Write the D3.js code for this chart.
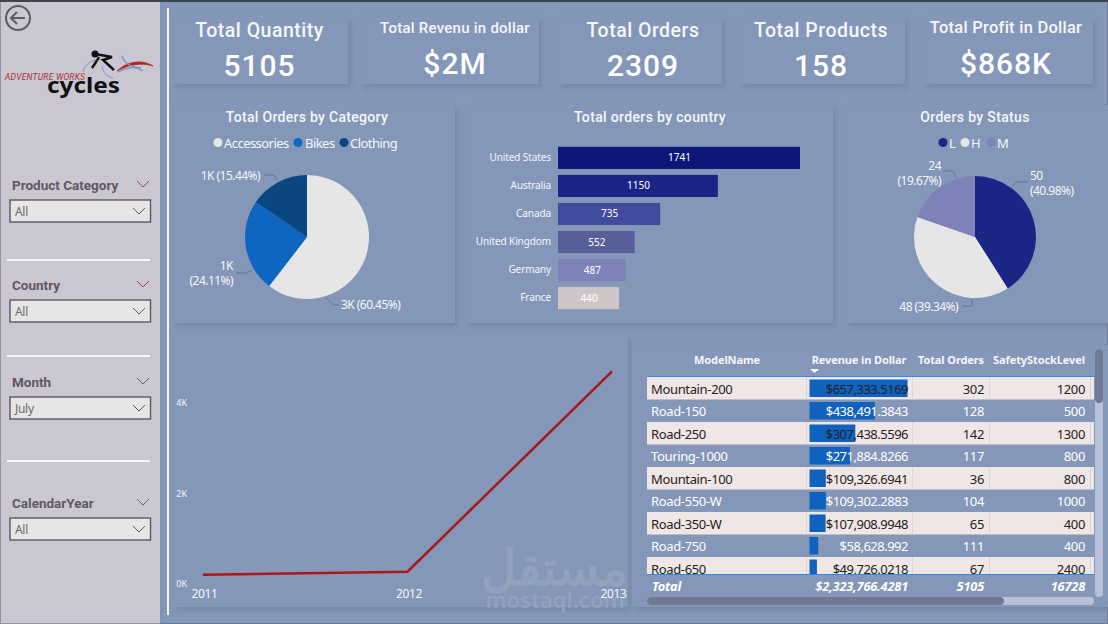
<!DOCTYPE html>
<html>
<head>
<meta charset="utf-8">
<script src="https://cdn.jsdelivr.net/npm/d3@7"></script>
<style>
html, body { margin:0; padding:0; background:#8497b8; overflow:hidden; }
text { font-family:"Noto Sans", sans-serif; }
.din { font-family:"Roboto", sans-serif; }
</style>
</head>
<body>
<svg id="chart" width="1108" height="624"></svg>
<script>
"use strict";

var kpiTitles = ['Total Quantity', 'Total Revenu in dollar', 'Total Orders', 'Total Products', 'Total Profit in Dollar'];
var kpiValues = ['5105', '$2M', '2309', '158', '$868K'];

var slicerNames = ['Product Category', 'Country', 'Month', 'CalendarYear'];
var slicerValues = ['All', 'All', 'July', 'All'];

var categoryNames = ['Accessories', 'Bikes', 'Clothing'];
var categoryShares = [60.45, 24.11, 15.44];
var categoryLabels = [['3K (60.45%)'], ['1K', '(24.11%)'], ['1K (15.44%)']];

var statusNames = ['L', 'H', 'M'];
var statusValues = [50, 48, 24];
var statusLabels = [['50', '(40.98%)'], ['48 (39.34%)'], ['24', '(19.67%)']];

var countries = ['United States', 'Australia', 'Canada', 'United Kingdom', 'Germany', 'France'];
var countryOrders = [1741, 1150, 735, 552, 487, 440];

var years = ['2011', '2012', '2013'];
var yearQuantity = [180, 250, 4675];

var models = ['Mountain-200', 'Road-150', 'Road-250', 'Touring-1000', 'Mountain-100', 'Road-550-W', 'Road-350-W', 'Road-750', 'Road-650'];
var revenue = [657333.5169, 438491.3843, 307438.5596, 271884.8266, 109326.6941, 109302.2883, 107908.9948, 58628.992, 49726.0218];
var revenueText = ['$657,333.5169', '$438,491.3843', '$307,438.5596', '$271,884.8266', '$109,326.6941', '$109,302.2883', '$107,908.9948', '$58,628.992', '$49,726.0218'];
var modelOrders = [302, 128, 142, 117, 36, 104, 65, 111, 67];
var safetyStock = [1200, 500, 1300, 800, 800, 1000, 400, 400, 2400];
var tableHeads = ['ModelName', 'Revenue in Dollar', 'Total Orders', 'SafetyStockLevel'];
var tableTotals = ['Total', '$2,323,766.4281', '5105', '16728'];

var BG = '#8497b8', SHADOW = '#75859f', WHITE = '#f4f6fa';
var svg = d3.select('#chart');

var blur = svg.append('defs').append('filter').attr('id', 'soft')
	.attr('x', '-10%').attr('y', '-10%').attr('width', '120%').attr('height', '120%');
blur.append('feGaussianBlur').attr('stdDeviation', 2.5);

function label(g, x, y, str, size, color, anchor, cls)
{
	return g.append('text').attr('x', x).attr('y', y).attr('font-size', size)
		.attr('fill', color).attr('text-anchor', anchor || 'start')
		.attr('class', cls || null).text(str);
}
function panel(x, y, w, h)
{
	svg.append('rect').attr('x', x + 3).attr('y', y + 4).attr('width', w).attr('height', h)
		.attr('fill', SHADOW).attr('opacity', .8).attr('filter', 'url(#soft)');
	svg.append('rect').attr('x', x).attr('y', y).attr('width', w).attr('height', h).attr('fill', BG);
}
function chevron(x, y, color)
{
	svg.append('path').attr('d', 'M' + (x - 6) + ',' + (y - 3) + 'L' + x + ',' + (y + 3) + 'L' + (x + 6) + ',' + (y - 3))
		.attr('fill', 'none').attr('stroke', color).attr('stroke-width', 1);
}

// background
svg.append('rect').attr('width', 1108).attr('height', 624).attr('fill', BG);

//*-*-*-*-*-*-*-*-*-*-*-*-*-*-*-*-*-*-*-
//      *** sidebar ***
//*-*-*-*-*-*-*-*-*-*-*-*-*-*-*-*-*-*-*
svg.append('rect').attr('width', 160).attr('height', 624).attr('fill', '#cbc7d2');
svg.append('rect').attr('x', 160).attr('width', 3).attr('height', 624).attr('fill', '#7d8fad').attr('opacity', .4);
svg.append('rect').attr('x', .5).attr('y', .5).attr('width', 1107).attr('height', 623).attr('fill', 'none')
	.attr('stroke', '#555e70').attr('stroke-dasharray', '1 1');
svg.append('rect').attr('width', 1108).attr('height', 2).attr('fill', '#3f4350');

// back button
svg.append('circle').attr('cx', 18).attr('cy', 18).attr('r', 12).attr('fill', 'none').attr('stroke', '#5c5c5c').attr('stroke-width', 2);
svg.append('path').attr('d', 'M25,18H11M17,12L11,18L17,24').attr('fill', 'none').attr('stroke', '#5c5c5c').attr('stroke-width', 2);

// logo
svg.append('path').attr('d', 'M117,71C125,63 140,58 153,66C141,62 128,65 117,71Z').attr('fill', '#b3261e').attr('stroke', '#b3261e').attr('stroke-width', .8);
svg.append('path').attr('d', 'M118,72C127,68 134,65 143,71M122,56C124,63 130,67 141,68').attr('fill', 'none').attr('stroke', '#7f95c6').attr('stroke-width', 1.3);
svg.append('path').attr('d', 'M83,72C84,64 94,57 108,60M102,66C103,72 106,76 113,78').attr('fill', 'none').attr('stroke', '#7f95c6').attr('stroke-width', 1);
svg.append('circle').attr('cx', 95).attr('cy', 54).attr('r', 3.5).attr('fill', '#111');
svg.append('path').attr('d', 'M95,54L112,57L103,60L114,70M99,57L96,62L92,68').attr('fill', 'none').attr('stroke', '#111').attr('stroke-width', 2.4);
label(svg, 5, 80, 'ADVENTURE WORKS', 8.5, '#a83232', 'start', 'din').attr('font-style', 'italic')
	.attr('textLength', 80).attr('lengthAdjust', 'spacing');
label(svg, 47, 93, 'cycles', 21, '#111').attr('font-weight', 700).attr('font-family', 'DejaVu Sans')
	.attr('textLength', 73).attr('lengthAdjust', 'spacingAndGlyphs');

// slicers
var slicerTitleY = [190, 290, 387, 508];
var dividerY = [260, 356, 461];
slicerNames.forEach(function(name, i)
{
	var boxTop = slicerTitleY[i] + 10;
	label(svg, 12, slicerTitleY[i], name, 13.5, '#5e5864', 'start', 'din').attr('font-weight', 700);
	chevron(143, slicerTitleY[i] - 6, i >= 2 ? '#6a6570' : '#8a4a58');
	svg.append('rect').attr('x', 10).attr('y', boxTop).attr('width', 140.5).attr('height', 22)
		.attr('fill', '#e6e6e6').attr('stroke', '#5d5763').attr('stroke-width', 1.4);
	label(svg, 15, boxTop + 16, slicerValues[i], 12, '#6a6a6a').attr('letter-spacing', -0.3);
	chevron(139, boxTop + 11, '#5d5763');
});
dividerY.forEach(function(y)
{
	svg.append('rect').attr('x', 7).attr('y', y - 1).attr('width', 143).attr('height', 2).attr('fill', '#f5f4f7');
});

// divider of the main area
svg.append('rect').attr('x', 167).attr('y', 8).attr('width', 2).attr('height', 607).attr('fill', '#f2f4f8');

//*-*-*-*-*-*-*-*-*-*-*-*-*-*-*-*-*-*-*-
//      *** kpi cards ***
//*-*-*-*-*-*-*-*-*-*-*-*-*-*-*-*-*-*-*
var kpiX = [172, 361, 558, 740, 923];
var kpiW = [176, 178, 164, 165, 170];
var kpiCx = [259.5, 455, 643, 821, 1006];
var kpiTitleSize = [19.5, 15, 19.5, 19.5, 16.5];
kpiTitles.forEach(function(t, i)
{
	panel(kpiX[i], 17, kpiW[i], 67);
	var small = (i == 1 || i == 4);
	label(svg, kpiCx[i], small ? 33 : 37, t, kpiTitleSize[i], WHITE, 'middle', 'din').attr('font-weight', 500).attr('letter-spacing', small ? .25 : .5);
	label(svg, kpiCx[i], small ? 74 : 76, kpiValues[i], 30, '#fff', 'middle', 'din').attr('font-weight', 500).attr('letter-spacing', 1);
});

panel(172, 105, 283, 218);
panel(467, 105, 366, 218);
panel(845, 105, 263, 218);
panel(172, 335, 456, 272);
panel(632, 345, 476, 262);

//*-*-*-*-*-*-*-*-*-*-*-*-*-*-*-*-*-*-*-
//      *** pies ***
//*-*-*-*-*-*-*-*-*-*-*-*-*-*-*-*-*-*-*
var categoryColors = d3.scaleOrdinal().domain(categoryNames).range(['#e6e6e6', '#0f66c0', '#0a4680']);
var statusColors = d3.scaleOrdinal().domain(statusNames).range(['#1b2585', '#e6e6e6', '#7d82b8']);

// leader line and text placement, one per slice
var categoryLayout = [
	{ line:[[326,298],[334,305],[339,305]], x:341, y:[309], anchor:'start' },
	{ line:[[253,270],[246,273],[236,273]], x:233, y:[270,285], anchor:'end' },
	{ line:[[277,180],[274,175],[264,175]], x:260, y:[180], anchor:'end' }
];
var statusLayout = [
	{ line:[[1012,187],[1017,182],[1028,182]], x:1030, y:[180,195], anchor:'start' },
	{ line:[[972,299],[972,306],[962,306]], x:958, y:[311], anchor:'end' },
	{ line:[[956,178],[953,171],[943,171]], x:941, y:[170,185], anchor:'end' }
];

function draw_pie(cx, cy, radius, names, values, colors, labels, layout)
{
	var slices = d3.pie().sort(null)(values);
	var arc = d3.arc().innerRadius(0).outerRadius(radius);
	var g = svg.append('g').attr('transform', 'translate(' + cx + ',' + cy + ')');
	g.selectAll('path').data(slices).enter().append('path')
		.attr('d', arc)
		.attr('fill', function(d, i){ return colors(names[i]); });
	layout.forEach(function(l, i)
	{
		svg.append('path').attr('d', d3.line()(l.line)).attr('fill', 'none').attr('stroke', '#5f6b82').attr('stroke-width', .8);
		labels[i].forEach(function(str, j)
		{
			label(svg, l.x, l.y[j], str, 12, WHITE, l.anchor).attr('letter-spacing', -0.55);
		});
	});
}
function draw_legend(names, colors, dotX, textX)
{
	names.forEach(function(n, i)
	{
		svg.append('circle').attr('cx', dotX[i]).attr('cy', 142.5).attr('r', 4.5).attr('fill', colors(n));
		label(svg, textX[i], 147.5, n, 13, WHITE).attr('letter-spacing', -0.55);
	});
}
label(svg, 307, 122, 'Total Orders by Category', 14, WHITE, 'middle', 'din').attr('font-weight', 500).attr('letter-spacing', .3);
draw_legend(categoryNames, categoryColors, [218, 298, 344], [224, 305, 350]);
draw_pie(307, 237, 62, categoryNames, categoryShares, categoryColors, categoryLabels, categoryLayout);

label(svg, 975, 122, 'Orders by Status', 14, WHITE, 'middle', 'din').attr('font-weight', 500).attr('letter-spacing', .35);
draw_legend(statusNames, statusColors, [943, 965, 991], [949, 971, 997]);
draw_pie(975, 237, 61, statusNames, statusValues, statusColors, statusLabels, statusLayout);

//*-*-*-*-*-*-*-*-*-*-*-*-*-*-*-*-*-*-*-
//      *** bars by country ***
//*-*-*-*-*-*-*-*-*-*-*-*-*-*-*-*-*-*-*
label(svg, 650, 122, 'Total orders by country', 14, WHITE, 'middle', 'din').attr('font-weight', 500).attr('letter-spacing', .35);
var barColors = ['#0d1778', '#1b2585', '#414c9c', '#585f98', '#7d82b8', '#cec6c6'];
var barX = d3.scaleLinear().domain([0, 1741]).range([558, 800]);
var barY = d3.scaleBand().domain(countries).range([144, 312]).paddingInner(.21).paddingOuter(.1);

var barAxis = svg.append('g').attr('transform', 'translate(558,0)')
	.call(d3.axisLeft(barY).tickSize(0).tickPadding(7));
barAxis.select('.domain').remove();
barAxis.selectAll('text').attr('font-size', 10).attr('fill', WHITE).attr('letter-spacing', -0.1).style('font-family', '"Noto Sans", sans-serif');

svg.selectAll('.bar').data(countries).enter().append('rect')
	.attr('class', 'bar')
	.attr('x', barX(0))
	.attr('y', function(d){ return barY(d); })
	.attr('width', function(d, i){ return barX(countryOrders[i]) - barX(0); })
	.attr('height', barY.bandwidth())
	.attr('fill', function(d, i){ return barColors[i]; });
svg.selectAll('.barval').data(countries).enter().append('text')
	.attr('class', 'barval')
	.attr('x', function(d, i){ return (barX(0) + barX(countryOrders[i])) / 2 + 0.5; })
	.attr('y', function(d){ return barY(d) + barY.bandwidth() / 2 + 3.5; })
	.attr('text-anchor', 'middle').attr('font-size', 10).attr('fill', '#fff')
	.text(function(d, i){ return countryOrders[i]; });

//*-*-*-*-*-*-*-*-*-*-*-*-*-*-*-*-*-*-*-
//      *** quantity by year ***
//*-*-*-*-*-*-*-*-*-*-*-*-*-*-*-*-*-*-*
var lineX = d3.scalePoint().domain(years).range([203, 612]);
var lineY = d3.scaleLinear().domain([0, 4000]).range([583, 402]);

// watermark goes under the axis labels and the line
svg.append('text').attr('x', 554).attr('y', 585).attr('text-anchor', 'middle').attr('font-size', 49)
	.attr('font-weight', 700).attr('fill', '#92a1bd').attr('font-family', 'DejaVu Sans').attr('direction', 'rtl').text('مستقل');
label(svg, 555, 608, 'mostaql.com', 22, '#92a1bd', 'middle').attr('font-weight', 600);

var yAxis = svg.append('g').attr('transform', 'translate(187,1)')
	.call(d3.axisLeft(lineY).tickValues([0, 2000, 4000]).tickSize(0).tickPadding(0)
		.tickFormat(function(d){ return (d / 1000) + 'K'; }));
yAxis.select('.domain').remove();
yAxis.selectAll('text').attr('font-size', 9).attr('fill', WHITE).style('font-family', '"Noto Sans", sans-serif');

var xAxis = svg.append('g').attr('transform', 'translate(1,589)').call(d3.axisBottom(lineX).tickSize(0).tickPadding(0));
xAxis.select('.domain').remove();
xAxis.selectAll('text').attr('font-size', 12).attr('fill', WHITE).attr('letter-spacing', -0.4).style('font-family', '"Noto Sans", sans-serif');

svg.append('path')
	.attr('d', d3.line().x(function(d, i){ return lineX(years[i]); }).y(function(d){ return lineY(d); })(yearQuantity))
	.attr('fill', 'none').attr('stroke', '#a81818').attr('stroke-width', 2.5);

//*-*-*-*-*-*-*-*-*-*-*-*-*-*-*-*-*-*-*-
//      *** table ***
//*-*-*-*-*-*-*-*-*-*-*-*-*-*-*-*-*-*-*
var rowY = d3.scaleBand().domain(models).range([377, 377 + 22.5 * models.length]);
var dataBar = d3.scaleLinear().domain([0, 657333.5169]).range([0, 98]);
var colEdges = [806, 912, 989, 1090];

svg.append('clipPath').attr('id', 'rowsClip').append('rect').attr('x', 640).attr('y', 376).attr('width', 460).attr('height', 198);
var body = svg.append('g').attr('clip-path', 'url(#rowsClip)');

models.forEach(function(m, i)
{
	var y = rowY(m), h = rowY.bandwidth(), light = (i % 2 == 0);
	var ink = light ? '#222' : '#fff';
	var mid = y + h / 2 + 5.5;
	if(light)
	{
		body.append('rect').attr('x', 647).attr('y', y).attr('width', 447).attr('height', h).attr('fill', '#f0e6e6');
		colEdges.forEach(function(x)
		{
			body.append('rect').attr('x', x).attr('y', y).attr('width', 1).attr('height', h).attr('fill', '#d5d5de');
		});
	}
	body.append('rect').attr('x', 809.5).attr('y', y + 2.5).attr('width', dataBar(revenue[i])).attr('height', h - 5).attr('fill', '#0f62bd');
	label(body, 651, mid, m, 13, ink).attr('letter-spacing', -0.35);
	label(body, 908, mid, revenueText[i], 13, ink, 'end').attr('letter-spacing', -0.5);
	label(body, 984, mid, modelOrders[i], 13, ink, 'end').attr('letter-spacing', -0.35);
	label(body, 1085, mid, safetyStock[i], 13, ink, 'end').attr('letter-spacing', -0.35);
});

var headX = [727, 859, 951, 1039];
tableHeads.forEach(function(t, i)
{
	label(svg, headX[i], 364, t, 11, WHITE, 'middle').attr('font-weight', 700).attr('letter-spacing', -0.1);
});
svg.append('path').attr('d', 'M810,369h9l-4.5,4z').attr('fill', '#fff');
svg.append('rect').attr('x', 647).attr('y', 376).attr('width', 447).attr('height', 1).attr('fill', '#2a8cf0');
svg.append('rect').attr('x', 647).attr('y', 574).attr('width', 447).attr('height', 1).attr('fill', '#2a8cf0');

var totalX = [652, 908, 984, 1085];
tableTotals.forEach(function(t, i)
{
	label(svg, totalX[i], 591, t, 12.8, '#fff', i == 0 ? 'start' : 'end').attr('font-weight', 700).attr('font-style', 'italic').attr('letter-spacing', -0.2);
});

// scrollbars
svg.append('rect').attr('x', 1095).attr('y', 349).attr('width', 8).attr('height', 248).attr('rx', 4).attr('fill', '#b7c2da');
svg.append('rect').attr('x', 1095).attr('y', 349).attr('width', 8).attr('height', 54).attr('rx', 4).attr('fill', '#6f7b94');
svg.append('rect').attr('x', 647).attr('y', 597).attr('width', 447).attr('height', 8).attr('rx', 4).attr('fill', '#b7c2da');
svg.append('rect').attr('x', 647).attr('y', 597).attr('width', 357).attr('height', 8).attr('rx', 4).attr('fill', '#6f7b94');
</script>
</body>
</html>
